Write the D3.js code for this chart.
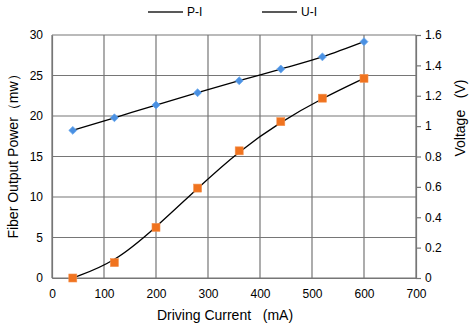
<!DOCTYPE html>
<html><head><meta charset="utf-8">
<script src="https://cdn.jsdelivr.net/npm/d3@7"></script>
<style>body{margin:0;background:#fff}svg{display:block}text{font-family:"Liberation Sans",Arial,sans-serif}</style>
</head><body>
<svg id="c" width="475" height="327"></svg>
<script>
const current = [40, 120, 200, 280, 360, 440, 520, 600];
const power = [0, 1.9, 6.25, 11.1, 15.7, 19.3, 22.2, 24.65];
const voltage = [0.972, 1.055, 1.139, 1.220, 1.299, 1.376, 1.456, 1.556];
const xTicks = [0, 100, 200, 300, 400, 500, 600, 700];
const yLeftTicks = [0, 5, 10, 15, 20, 25, 30];
const yRightTicks = [0, 0.2, 0.4, 0.6, 0.8, 1, 1.2, 1.4, 1.6];
const seriesNames = ["P-I", "U-I"];

const svg = d3.select("#c");
const L = 52, R = 416, T = 35, B = 278;
const x = d3.scaleLinear().domain([0, 700]).range([L, R]);
const yL = d3.scaleLinear().domain([0, 30]).range([B, T]);
const yR = d3.scaleLinear().domain([0, 1.6]).range([B, T]);
const grid = "#767676";

// gridlines
svg.append("g").selectAll("line").data(yLeftTicks).join("line")
  .attr("x1", L).attr("x2", R).attr("y1", d => yL(d)).attr("y2", d => yL(d))
  .attr("stroke", grid).attr("stroke-width", 1.2);
svg.append("g").selectAll("line").data(xTicks).join("line")
  .attr("x1", d => x(d)).attr("x2", d => x(d)).attr("y1", T).attr("y2", B)
  .attr("stroke", grid).attr("stroke-width", 1.2);

// axes
const ax = svg.append("g").attr("transform", `translate(0,${B})`)
  .call(d3.axisBottom(x).tickValues(xTicks).tickSize(0).tickPadding(11));
ax.select(".domain").attr("stroke", grid).attr("stroke-width", 1.2);
ax.selectAll("text").attr("font-size", 12).attr("fill", "#000");

const al = svg.append("g").attr("transform", `translate(${L},0)`)
  .call(d3.axisLeft(yL).tickValues(yLeftTicks).tickSize(0).tickPadding(9));
al.select(".domain").attr("stroke", grid).attr("stroke-width", 1.2);
al.selectAll("text").attr("font-size", 12).attr("fill", "#000");

const ar = svg.append("g").attr("transform", `translate(${R},0)`)
  .call(d3.axisRight(yR).tickValues(yRightTicks).tickSize(5).tickPadding(4).tickFormat(d3.format("~g")));
ar.select(".domain").attr("stroke", grid).attr("stroke-width", 1.2);
ar.selectAll("line").attr("stroke", grid).attr("stroke-width", 1.2);
ar.selectAll("text").attr("font-size", 12).attr("fill", "#000");

// clip
svg.append("clipPath").attr("id", "pc").append("rect")
  .attr("x", L).attr("y", T - 2).attr("width", R - L).attr("height", B - T + 2);

const pData = current.map((c, i) => [c, power[i]]);
const uData = current.map((c, i) => [c, voltage[i]]);

svg.append("path").datum(uData).attr("clip-path", "url(#pc)")
  .attr("d", d3.line().x(d => x(d[0])).y(d => yR(d[1])).curve(d3.curveMonotoneX))
  .attr("fill", "none").attr("stroke", "#000").attr("stroke-width", 1.3);
svg.append("path").datum(pData).attr("clip-path", "url(#pc)")
  .attr("d", d3.line().x(d => x(d[0])).y(d => yL(d[1])).curve(d3.curveBasis))
  .attr("fill", "none").attr("stroke", "#000").attr("stroke-width", 1.3);

// markers
svg.append("g").selectAll("path").data(uData).join("path")
  .attr("transform", d => `translate(${x(d[0])},${yR(d[1])})`)
  .attr("d", d3.symbol().type(d3.symbolDiamond2).size(40))
  .attr("fill", "#4A90E2").attr("stroke", "#6aa8ee").attr("stroke-width", 0.8);
svg.append("g").selectAll("rect").data(pData).join("rect")
  .attr("x", d => x(d[0]) - 4).attr("y", d => yL(d[1]) - 4)
  .attr("width", 8).attr("height", 8)
  .attr("fill", "#F0731F").attr("stroke", "#f5924f").attr("stroke-width", 0.6);

// legend
const lg = svg.append("g");
const legX = [148, 262];
seriesNames.forEach((n, i) => {
  lg.append("line").attr("x1", legX[i]).attr("x2", legX[i] + 35).attr("y1", 12).attr("y2", 12)
    .attr("stroke", "#595959").attr("stroke-width", 2);
  lg.append("text").attr("x", legX[i] + 39).attr("y", 16).attr("font-size", 12).text(n);
});

// titles
svg.append("text").attr("x", 225).attr("y", 320).attr("text-anchor", "middle")
  .attr("font-size", 14).attr("fill", "#000").text("Driving Current\u00a0\u00a0 (mA)");
svg.append("text").attr("transform", "translate(18,153) rotate(-90)").attr("text-anchor", "middle")
  .attr("font-size", 14).attr("fill", "#000").text("Fiber Output Power\uff08mw\uff09");
svg.append("text").attr("transform", "translate(465,118) rotate(-90)").attr("text-anchor", "middle")
  .attr("font-size", 14).attr("fill", "#000").text("Voltage\u00a0\u00a0 (V)");
</script>
</body></html>
